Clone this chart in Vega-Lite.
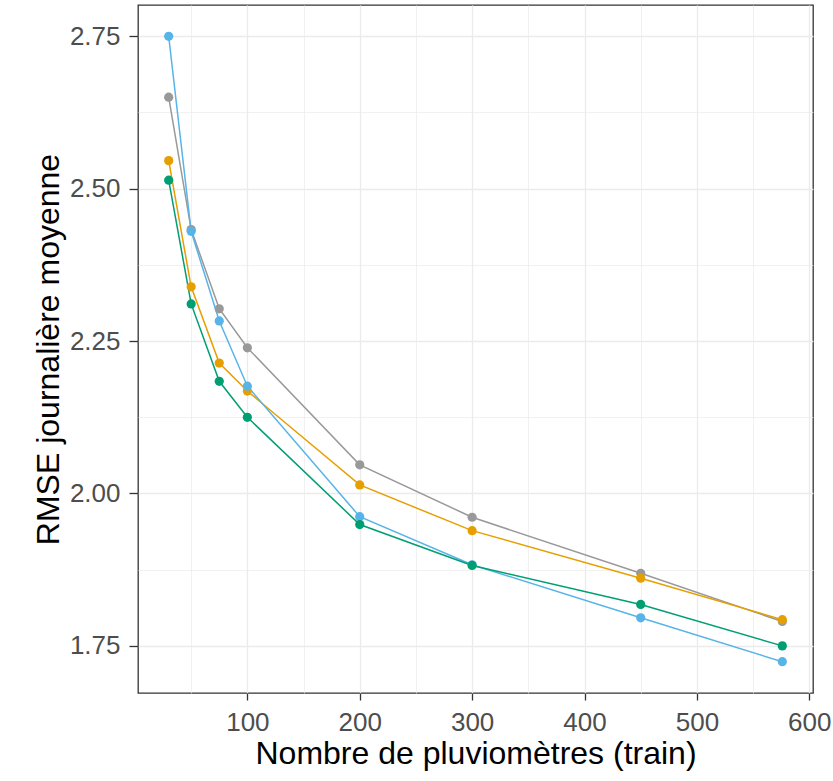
{
  "$schema": "https://vega.github.io/schema/vega-lite/v6.json",
  "width": 675,
  "height": 688,
  "autosize": {"type": "none"},
  "padding": {"left": 138, "top": 5, "right": 20, "bottom": 88},
  "background": "white",
  "config": {
    "view": {"stroke": "#333333", "strokeWidth": 1.3},
    "font": "Liberation Sans"
  },
  "data": {
    "values": [
      {"n": 30, "rmse": 2.650, "serie": "A"},
      {"n": 50, "rmse": 2.433, "serie": "A"},
      {"n": 75, "rmse": 2.303, "serie": "A"},
      {"n": 100, "rmse": 2.239, "serie": "A"},
      {"n": 200, "rmse": 2.047, "serie": "A"},
      {"n": 300, "rmse": 1.961, "serie": "A"},
      {"n": 450, "rmse": 1.869, "serie": "A"},
      {"n": 576, "rmse": 1.790, "serie": "A"},
      {"n": 30, "rmse": 2.546, "serie": "B"},
      {"n": 50, "rmse": 2.339, "serie": "B"},
      {"n": 75, "rmse": 2.214, "serie": "B"},
      {"n": 100, "rmse": 2.168, "serie": "B"},
      {"n": 200, "rmse": 2.014, "serie": "B"},
      {"n": 300, "rmse": 1.939, "serie": "B"},
      {"n": 450, "rmse": 1.861, "serie": "B"},
      {"n": 576, "rmse": 1.793, "serie": "B"},
      {"n": 30, "rmse": 2.750, "serie": "C"},
      {"n": 50, "rmse": 2.430, "serie": "C"},
      {"n": 75, "rmse": 2.283, "serie": "C"},
      {"n": 100, "rmse": 2.176, "serie": "C"},
      {"n": 200, "rmse": 1.962, "serie": "C"},
      {"n": 300, "rmse": 1.883, "serie": "C"},
      {"n": 450, "rmse": 1.796, "serie": "C"},
      {"n": 576, "rmse": 1.724, "serie": "C"},
      {"n": 30, "rmse": 2.514, "serie": "D"},
      {"n": 50, "rmse": 2.311, "serie": "D"},
      {"n": 75, "rmse": 2.184, "serie": "D"},
      {"n": 100, "rmse": 2.125, "serie": "D"},
      {"n": 200, "rmse": 1.949, "serie": "D"},
      {"n": 300, "rmse": 1.882, "serie": "D"},
      {"n": 450, "rmse": 1.818, "serie": "D"},
      {"n": 576, "rmse": 1.750, "serie": "D"}
    ]
  },
  "encoding": {
    "x": {
      "field": "n",
      "type": "quantitative",
      "scale": {"domain": [2.7, 603.3], "nice": false, "zero": false},
      "axis": {
        "title": "Nombre de pluviomètres (train)",
        "values": [50, 100, 150, 200, 250, 300, 350, 400, 450, 500, 550, 600],
        "labelExpr": "datum.value % 100 === 0 ? datum.label : ''",
        "domain": false,
        "grid": true,
        "gridColor": "#EBEBEB",
        "gridWidth": {"condition": {"test": "datum.value % 100 === 0", "value": 1.3}, "value": 0.7},
        "tickColor": "#333333",
        "tickSize": 7,
        "tickWidth": 1.3,
        "tickOpacity": {"condition": {"test": "datum.value % 100 === 0", "value": 1}, "value": 0},
        "labelColor": "#4D4D4D",
        "labelFontSize": 26,
        "labelPadding": 9,
        "labelFlush": false,
        "titleFontSize": 32,
        "titleFontWeight": "normal",
        "titleColor": "#000000",
        "titlePadding": 3
      }
    },
    "y": {
      "field": "rmse",
      "type": "quantitative",
      "scale": {"domain": [1.6727, 2.8013], "nice": false, "zero": false},
      "axis": {
        "title": "RMSE journalière moyenne",
        "values": [1.75, 1.875, 2.0, 2.125, 2.25, 2.375, 2.5, 2.625, 2.75],
        "format": ".2f",
        "labelExpr": "abs(datum.value*4 - round(datum.value*4)) < 0.001 ? datum.label : ''",
        "domain": false,
        "grid": true,
        "gridColor": "#EBEBEB",
        "gridWidth": {"condition": {"test": "abs(datum.value*4 - round(datum.value*4)) < 0.001", "value": 1.3}, "value": 0.7},
        "tickColor": "#333333",
        "tickSize": 9,
        "tickWidth": 1.3,
        "tickOpacity": {"condition": {"test": "abs(datum.value*4 - round(datum.value*4)) < 0.001", "value": 1}, "value": 0},
        "labelColor": "#4D4D4D",
        "labelFontSize": 26,
        "labelPadding": 9,
        "labelFlush": false,
        "titleFontSize": 32,
        "titleFontWeight": "normal",
        "titleColor": "#000000",
        "titlePadding": 4
      }
    },
    "color": {
      "field": "serie",
      "type": "nominal",
      "scale": {"domain": ["A", "B", "C", "D"], "range": ["#999999", "#E69F00", "#56B4E9", "#009E73"]},
      "legend": null
    }
  },
  "layer": [
    {"mark": {"type": "line", "strokeWidth": 1.5}},
    {"mark": {"type": "point", "filled": true, "opacity": 1, "size": 85}}
  ]
}
